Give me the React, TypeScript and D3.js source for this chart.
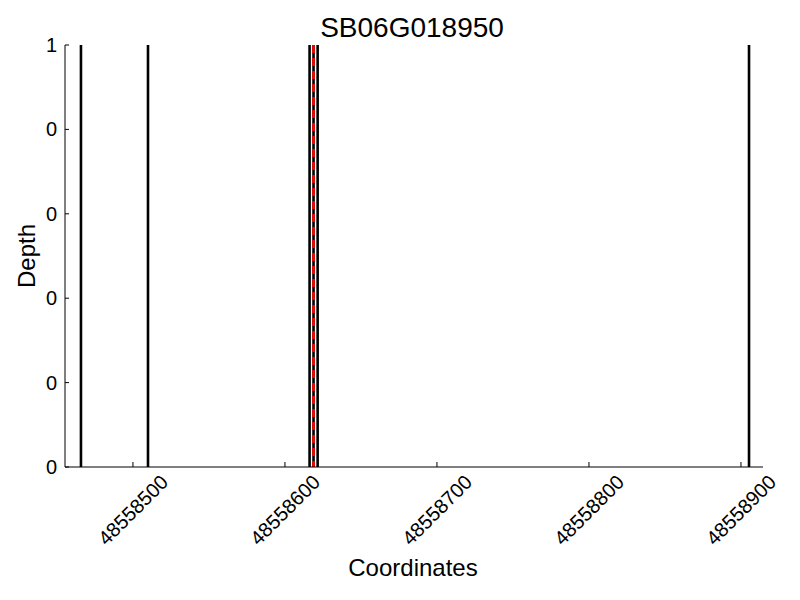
import React from "react";
import * as d3 from "d3";

const title = "SB06G018950";
const xTicks = [48558500, 48558600, 48558700, 48558800, 48558900];
const yTicks = [0, 0.2, 0.4, 0.6, 0.8, 1];
const yTickLabels = ["0", "0", "0", "0", "0", "1"];
const blackLines = [48558465.8, 48558509.9, 48558616.2, 48558618.8, 48558621.5, 48558905.3];
const redLines = [48558618.8];
const xDomain = [48558455.3, 48558914.5];

const W = 800, H = 600;
const left = 65, right = 763, top = 45, bottom = 467;
const font = "'Liberation Sans', Arial, sans-serif";

export default function App() {
  const x = d3.scaleLinear().domain(xDomain).range([left, right]);
  const y = d3.scaleLinear().domain([0, 1]).range([bottom, top]);
  return (
    <svg width={W} height={H} style={{ position: "absolute", left: 0, top: 0 }} fontFamily={font}>
      <rect width={W} height={H} fill="white" />
      {blackLines.map((v, i) => (
        <line key={"b" + i} x1={x(v)} x2={x(v)} y1={top} y2={bottom} stroke="black" strokeWidth={2.6} />
      ))}
      {redLines.map((v, i) => (
        <line key={"r" + i} x1={x(v)} x2={x(v)} y1={top} y2={bottom} stroke="red" strokeWidth={2.6} strokeDasharray="8,5" />
      ))}
      <line x1={left} x2={left} y1={top} y2={bottom} stroke="black" strokeWidth={1} />
      <line x1={left} x2={right} y1={bottom} y2={bottom} stroke="black" strokeWidth={1} />
      {yTicks.map((t, i) => (
        <g key={"y" + i}>
          <line x1={left} x2={left + 4} y1={y(t)} y2={y(t)} stroke="black" />
          <text x={left - 8} y={y(t)} textAnchor="end" dominantBaseline="central" fontSize={20}>{yTickLabels[i]}</text>
        </g>
      ))}
      {xTicks.map((t, i) => (
        <g key={"x" + i}>
          <line x1={x(t)} x2={x(t)} y1={bottom} y2={bottom - 5} stroke="black" />
          <text x={x(t)} y={510} textAnchor="middle" dominantBaseline="central" fontSize={20}
            transform={`rotate(-45, ${x(t)}, 510)`}>{d3.format("d")(t)}</text>
        </g>
      ))}
      <text x={412} y={37} textAnchor="middle" fontSize={28}>{title}</text>
      <text x={413} y={576} textAnchor="middle" fontSize={24}>Coordinates</text>
      <text transform="translate(35,256) rotate(-90)" textAnchor="middle" fontSize={24}>Depth</text>
    </svg>
  );
}
